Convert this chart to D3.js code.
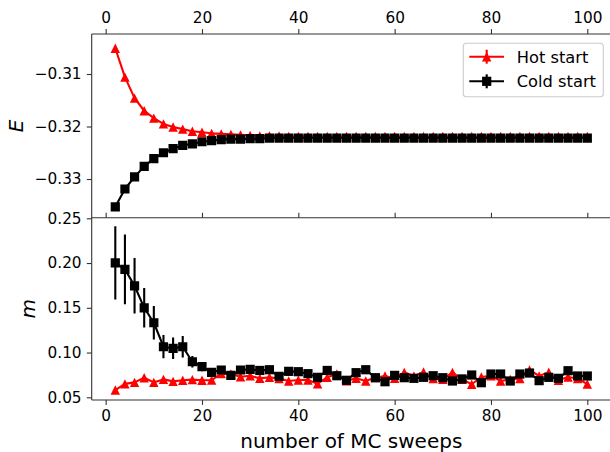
<!DOCTYPE html>
<html>
<head>
<meta charset="utf-8">
<script src="https://cdn.jsdelivr.net/npm/d3@7/dist/d3.min.js"></script>
<style>
  html, body { margin: 0; padding: 0; background: #fff; }
  svg { display: block; font-family: "DejaVu Sans", sans-serif; }
</style>
</head>
<body>
<svg id="chart" width="610" height="452"></svg>
<script>
// ---------------- data ----------------
const sweeps = [2,4,6,8,10,12,14,16,18,20,22,24,26,28,30,32,34,36,38,40,
  42,44,46,48,50,52,54,56,58,60,62,64,66,68,70,72,74,76,78,80,
  82,84,86,88,90,92,94,96,98,100];

const hotE = [-0.3051,-0.3106,-0.3146,-0.3170,-0.3184,-0.3195,-0.3201,-0.3205,-0.3209,-0.3211,
  -0.3213,-0.3214,-0.3215,-0.3216,-0.3217,-0.3218,-0.3218,-0.3218,-0.3219,-0.3219,
  -0.3219,-0.3219,-0.3219,-0.3219,-0.3219,-0.3219,-0.3219,-0.3219,-0.3219,-0.3219,
  -0.3219,-0.3219,-0.3219,-0.3219,-0.3219,-0.3219,-0.3219,-0.3219,-0.3219,-0.3219,
  -0.3219,-0.3219,-0.3219,-0.3219,-0.3219,-0.3219,-0.3219,-0.3219,-0.3219,-0.3219];

const coldE = [-0.3353,-0.3319,-0.3296,-0.3276,-0.3261,-0.3250,-0.3242,-0.3236,-0.3233,-0.3229,
  -0.3227,-0.3225,-0.3224,-0.3224,-0.3223,-0.3223,-0.3222,-0.3222,-0.3222,-0.3222,
  -0.3222,-0.3222,-0.3222,-0.3222,-0.3222,-0.3222,-0.3222,-0.3222,-0.3222,-0.3222,
  -0.3222,-0.3222,-0.3222,-0.3222,-0.3222,-0.3222,-0.3222,-0.3222,-0.3222,-0.3222,
  -0.3222,-0.3222,-0.3222,-0.3222,-0.3222,-0.3222,-0.3222,-0.3222,-0.3222,-0.3222];

const hotM = [0.0581,0.0650,0.0667,0.0719,0.0667,0.0700,0.0678,0.0690,0.0697,0.0690,
  0.0692,0.0765,0.0760,0.0730,0.0740,0.0712,0.0723,0.0710,0.0682,0.0693,
  0.0693,0.0652,0.0723,0.0760,0.0685,0.0712,0.0682,0.0720,0.0738,0.0712,
  0.0779,0.0738,0.0782,0.0710,0.0700,0.0779,0.0700,0.0646,0.0727,0.0740,
  0.0682,0.0700,0.0710,0.0805,0.0738,0.0780,0.0690,0.0727,0.0710,0.0648];

const coldM = [0.2002,0.1929,0.1746,0.1500,0.1333,0.1065,0.1047,0.1065,0.0897,0.0842,
  0.0779,0.0805,0.0745,0.0805,0.0812,0.0800,0.0808,0.0734,0.0790,0.0786,
  0.0764,0.0723,0.0800,0.0741,0.0690,0.0775,0.0808,0.0719,0.0674,0.0745,
  0.0719,0.0712,0.0723,0.0741,0.0719,0.0682,0.0705,0.0749,0.0663,0.0760,
  0.0760,0.0682,0.0760,0.0771,0.0686,0.0723,0.0712,0.0797,0.0738,0.0738];

const coldMErr = [0.041,0.039,0.031,0.022,0.0186,0.013,0.012,0.012,0.0065,0.005,
  0.004,0.003,0.002,0.002,0.002,0.002,0.002,0.002,0.002,0.002,
  0.002,0.002,0.002,0.002,0.002,0.002,0.002,0.002,0.002,0.002,
  0.002,0.002,0.002,0.002,0.002,0.002,0.002,0.002,0.002,0.002,
  0.002,0.002,0.002,0.002,0.002,0.002,0.002,0.002,0.002,0.002];

const xTicks = [0,20,40,60,80,100];
const eTicks = [-0.33,-0.32,-0.31];
const mTicks = [0.05,0.10,0.15,0.20,0.25];
const seriesNames = ["Hot start","Cold start"];
const seriesColors = ["#ff0000","#000000"];

// ---------------- layout ----------------
const svg = d3.select("#chart");
const L = 91.7, R = 610.9;
const topT = 34, mid = 217.7, bot = 400;
const axisColor = "#333";
const tickFont = 15.3;

const x = d3.scaleLinear().domain([-2.9, 104.9]).range([L, R]);
const yE = d3.scaleLinear().domain([-0.33737, -0.30238]).range([mid, topT]);
const yM = d3.scaleLinear().domain([0.04698, 0.25067]).range([bot, mid]);

const fmt = d3.format(".2f");

// clip paths
const defs = svg.append("defs");
defs.append("clipPath").attr("id","clipTop").append("rect")
  .attr("x", L).attr("y", topT).attr("width", R - L).attr("height", mid - topT);
defs.append("clipPath").attr("id","clipBot").append("rect")
  .attr("x", L).attr("y", mid).attr("width", R - L).attr("height", bot - mid);

function triPath(s){ const h = s/2; return `M0,${-h}L${h},${h}L${-h},${h}Z`; }
function sqPath(s){ const h = s/2; return `M${-h},${-h}H${h}V${h}H${-h}Z`; }
const markerPaths = [triPath(9.4), sqPath(9.2)];

function drawSeries(g, yScale, vals, err, ci){
  const color = seriesColors[ci];
  const pts = sweeps.map((s,i)=>[s, vals[i], err ? err[i] : 0]);
  const line = d3.line().x(d=>x(d[0])).y(d=>yScale(d[1]));
  g.append("path").datum(pts).attr("d", line)
    .attr("fill","none").attr("stroke", color).attr("stroke-width", 2.1)
    .attr("stroke-linejoin","round");
  if (err) {
    g.selectAll(null).data(pts).enter().append("line")
      .attr("x1", d=>x(d[0])).attr("x2", d=>x(d[0]))
      .attr("y1", d=>yScale(d[1]-d[2])).attr("y2", d=>yScale(d[1]+d[2]))
      .attr("stroke", color).attr("stroke-width", 2.1);
  }
  g.selectAll(null).data(pts).enter().append("path")
    .attr("d", markerPaths[ci])
    .attr("transform", d=>`translate(${x(d[0])},${yScale(d[1])})`)
    .attr("fill", color);
}

// ---- top panel ----
const gTop = svg.append("g").attr("clip-path","url(#clipTop)");
drawSeries(gTop, yE, hotE, null, 0);
drawSeries(gTop, yE, coldE, null, 1);

// ---- bottom panel ----
const gBot = svg.append("g").attr("clip-path","url(#clipBot)");
drawSeries(gBot, yM, hotM, null, 0);
drawSeries(gBot, yM, coldM, coldMErr, 1);

// ---- spines ----
function hline(y){ svg.append("line").attr("x1",L).attr("x2",R).attr("y1",y).attr("y2",y)
  .attr("stroke",axisColor).attr("stroke-width",1.1); }
hline(topT); hline(mid); hline(bot);
svg.append("line").attr("x1",L).attr("x2",L).attr("y1",topT).attr("y2",bot)
  .attr("stroke",axisColor).attr("stroke-width",1.1);

// ---- axes via d3 ----
function styleAxis(g){
  g.select(".domain").remove();
  g.selectAll(".tick line").attr("stroke",axisColor).attr("stroke-width",1.1);
  g.selectAll(".tick text").attr("fill","#000").style("font-size", tickFont+"px")
    .style("font-family","DejaVu Sans, sans-serif");
}
// top x axis (labels)
svg.append("g").attr("transform",`translate(0,${topT})`)
  .call(d3.axisTop(x).tickValues(xTicks).tickFormat(d3.format("d")).tickSize(4.9).tickPadding(6.5))
  .call(styleAxis);
// boundary ticks (pointing up from mid), no labels
svg.append("g").attr("transform",`translate(0,${mid})`)
  .call(d3.axisTop(x).tickValues(xTicks).tickFormat("").tickSize(4.9))
  .call(styleAxis);
// bottom x axis
svg.append("g").attr("transform",`translate(0,${bot})`)
  .call(d3.axisBottom(x).tickValues(xTicks).tickFormat(d3.format("d")).tickSize(4.9).tickPadding(5.6))
  .call(styleAxis);
// y axes
svg.append("g").attr("transform",`translate(${L},0)`)
  .call(d3.axisLeft(yE).tickValues(eTicks).tickFormat(fmt).tickSize(4.9).tickPadding(5.2))
  .call(styleAxis);
svg.append("g").attr("transform",`translate(${L},0)`)
  .call(d3.axisLeft(yM).tickValues(mTicks).tickFormat(fmt).tickSize(4.9).tickPadding(5.2))
  .call(styleAxis);

// ---- axis labels ----
svg.append("text").attr("x", (L+R)/2).attr("y", 448.3).attr("text-anchor","middle")
  .style("font-size","20px").attr("fill","#000").text("number of MC sweeps");
svg.append("text").attr("transform",`translate(22.5,${(topT+mid)/2}) rotate(-90)`)
  .attr("text-anchor","middle").style("font-size","20px").style("font-style","italic")
  .attr("fill","#000").text("E");
svg.append("text").attr("transform",`translate(35,${(mid+bot)/2}) rotate(-90)`)
  .attr("text-anchor","middle").style("font-size","20px").style("font-style","italic")
  .attr("fill","#000").text("m");

// ---- legend ----
const lg = svg.append("g");
lg.append("rect").attr("x",463.3).attr("y",43.3).attr("width",140).attr("height",53.4)
  .attr("rx",3).attr("fill","#fff").attr("fill-opacity",0.8)
  .attr("stroke","#cccccc").attr("stroke-width",1.1);
const legendRows = [56.7, 81.3];
seriesNames.forEach((name, i) => {
  const cy = legendRows[i], color = seriesColors[i];
  lg.append("line").attr("x1",469.3).attr("x2",504).attr("y1",cy).attr("y2",cy)
    .attr("stroke",color).attr("stroke-width",2.1);
  lg.append("line").attr("x1",486.7).attr("x2",486.7).attr("y1",cy-7).attr("y2",cy+7)
    .attr("stroke",color).attr("stroke-width",2.1);
  lg.append("path").attr("d", markerPaths[i]).attr("transform",`translate(486.7,${cy})`)
    .attr("fill",color);
  lg.append("text").attr("x",516.7).attr("y",cy+6).style("font-size","16.3px")
    .attr("fill","#000").text(name);
});
</script>
</body>
</html>
